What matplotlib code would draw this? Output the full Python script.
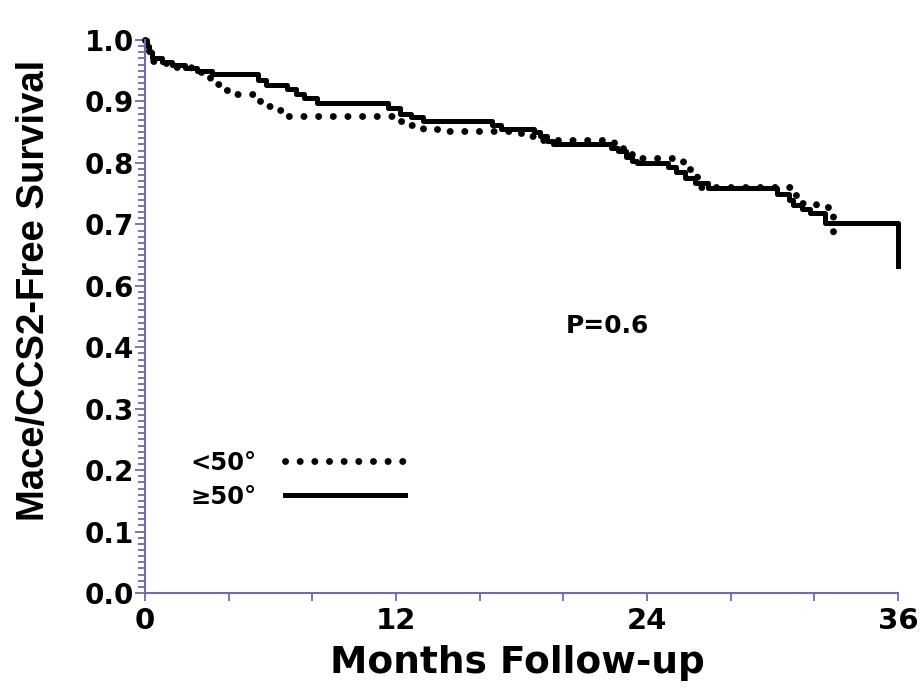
import matplotlib
matplotlib.use('Agg')
import matplotlib.pyplot as plt
from matplotlib.ticker import MultipleLocator

# Kaplan-Meier steps, months vs event-free survival
months_lt50 = [0, 0.1, 0.2, 0.3, 0.8, 1.5, 2.2, 2.7, 3.1, 3.7, 4.2, 5.5, 6.3, 6.5,
               12.05, 12.6, 13.3, 14.0, 17.5, 18.2, 19.0, 22.4, 22.85, 23.4,
               25.7, 26.05, 26.4, 31.0, 31.2, 32.1, 32.9]
surv_lt50 = [1.0, 0.99, 0.975, 0.966, 0.962, 0.956, 0.95, 0.944, 0.929, 0.919, 0.912, 0.893, 0.886, 0.877,
             0.868, 0.861, 0.856, 0.852, 0.848, 0.843, 0.838, 0.826, 0.815, 0.808,
             0.795, 0.78, 0.761, 0.748, 0.734, 0.729, 0.68]

months_ge50 = [0, 0.1, 0.2, 0.35, 0.8, 1.3, 1.9, 2.5, 3.2, 5.4, 5.8, 6.8, 7.2, 7.6, 8.2,
               11.6, 12.2, 12.7, 13.3, 16.6, 17.0, 18.6, 18.9, 19.2, 19.5,
               22.3, 22.6, 23.0, 23.3, 23.5, 25.0, 25.4, 25.8, 26.3, 26.9,
               30.2, 30.8, 31.0, 31.4, 31.8, 32.5, 36.0]
surv_ge50 = [1.0, 0.99, 0.98, 0.97, 0.965, 0.96, 0.955, 0.95, 0.945, 0.935, 0.927, 0.92, 0.912, 0.905, 0.897,
             0.89, 0.88, 0.874, 0.868, 0.862, 0.856, 0.85, 0.843, 0.836, 0.83,
             0.825, 0.819, 0.81, 0.803, 0.8, 0.793, 0.785, 0.776, 0.767, 0.759,
             0.749, 0.74, 0.732, 0.725, 0.718, 0.703, 0.632]

# the printed axis skips 0.5, so the labels sit on evenly spaced positions
ytick_pos = [1.0, 0.9, 0.8, 0.7, 0.6, 0.5, 0.4, 0.3, 0.2, 0.1]
ytick_labels = ['1.0', '0.9', '0.8', '0.7', '0.6', '0.4', '0.3', '0.2', '0.1', '0.0']
xticks = [0, 12, 24, 36]

axis_col = '#6c6cae'

plt.rcParams['font.family'] = 'DejaVu Sans'
plt.rcParams['font.weight'] = 'bold'

fig = plt.figure(figsize=(9.24, 6.89), dpi=100)
ax = fig.add_axes([0.1569, 0.1393, 0.815, 0.8026])

ax.step(months_lt50, surv_lt50, where='post', color='black', linewidth=5,
        linestyle=(0, (0.01, 2.1)), dash_capstyle='round', clip_on=False, label='<50°')
ax.step(months_ge50, surv_ge50, where='post', color='black', linewidth=3.6,
        clip_on=False, label='≥50°')

ax.set_xlim(0, 36)
ax.set_ylim(0.1, 1.0)
ax.set_xticks(xticks)
ax.xaxis.set_minor_locator(MultipleLocator(4))
ax.set_yticks(ytick_pos)
ax.set_yticklabels(ytick_labels)
ax.yaxis.set_minor_locator(MultipleLocator(0.01))

for s in ['top', 'right']:
    ax.spines[s].set_visible(False)
for s in ['left', 'bottom']:
    ax.spines[s].set_color(axis_col)
    ax.spines[s].set_linewidth(1.5)

ax.tick_params(axis='both', which='both', colors=axis_col, labelcolor='black', width=1.3)
ax.tick_params(axis='y', which='major', length=7, labelsize=20, pad=1)
ax.tick_params(axis='y', which='minor', length=5)
ax.tick_params(axis='x', which='both', length=6, labelsize=21, pad=4)

ax.set_ylabel('Mace/CCS2-Free Survival', fontsize=27.5, fontweight='bold',
              family='Liberation Sans')
ax.yaxis.set_label_coords(-0.124, 0.548)
ax.set_xlabel('Months Follow-up', fontsize=27, fontweight='bold')
ax.xaxis.set_label_coords(0.494, -0.094)

ax.text(22.1, 0.534, 'P=0.6', fontsize=18, fontweight='bold', ha='center', va='center')

leg = ax.legend(loc='upper left', bbox_to_anchor=(0.06, 0.257), frameon=False,
                markerfirst=False, fontsize=17.5, handlelength=4.9,
                handletextpad=1.2, labelspacing=0.4, borderpad=0, borderaxespad=0)

fig.savefig('out.png', dpi=100, facecolor='white')
